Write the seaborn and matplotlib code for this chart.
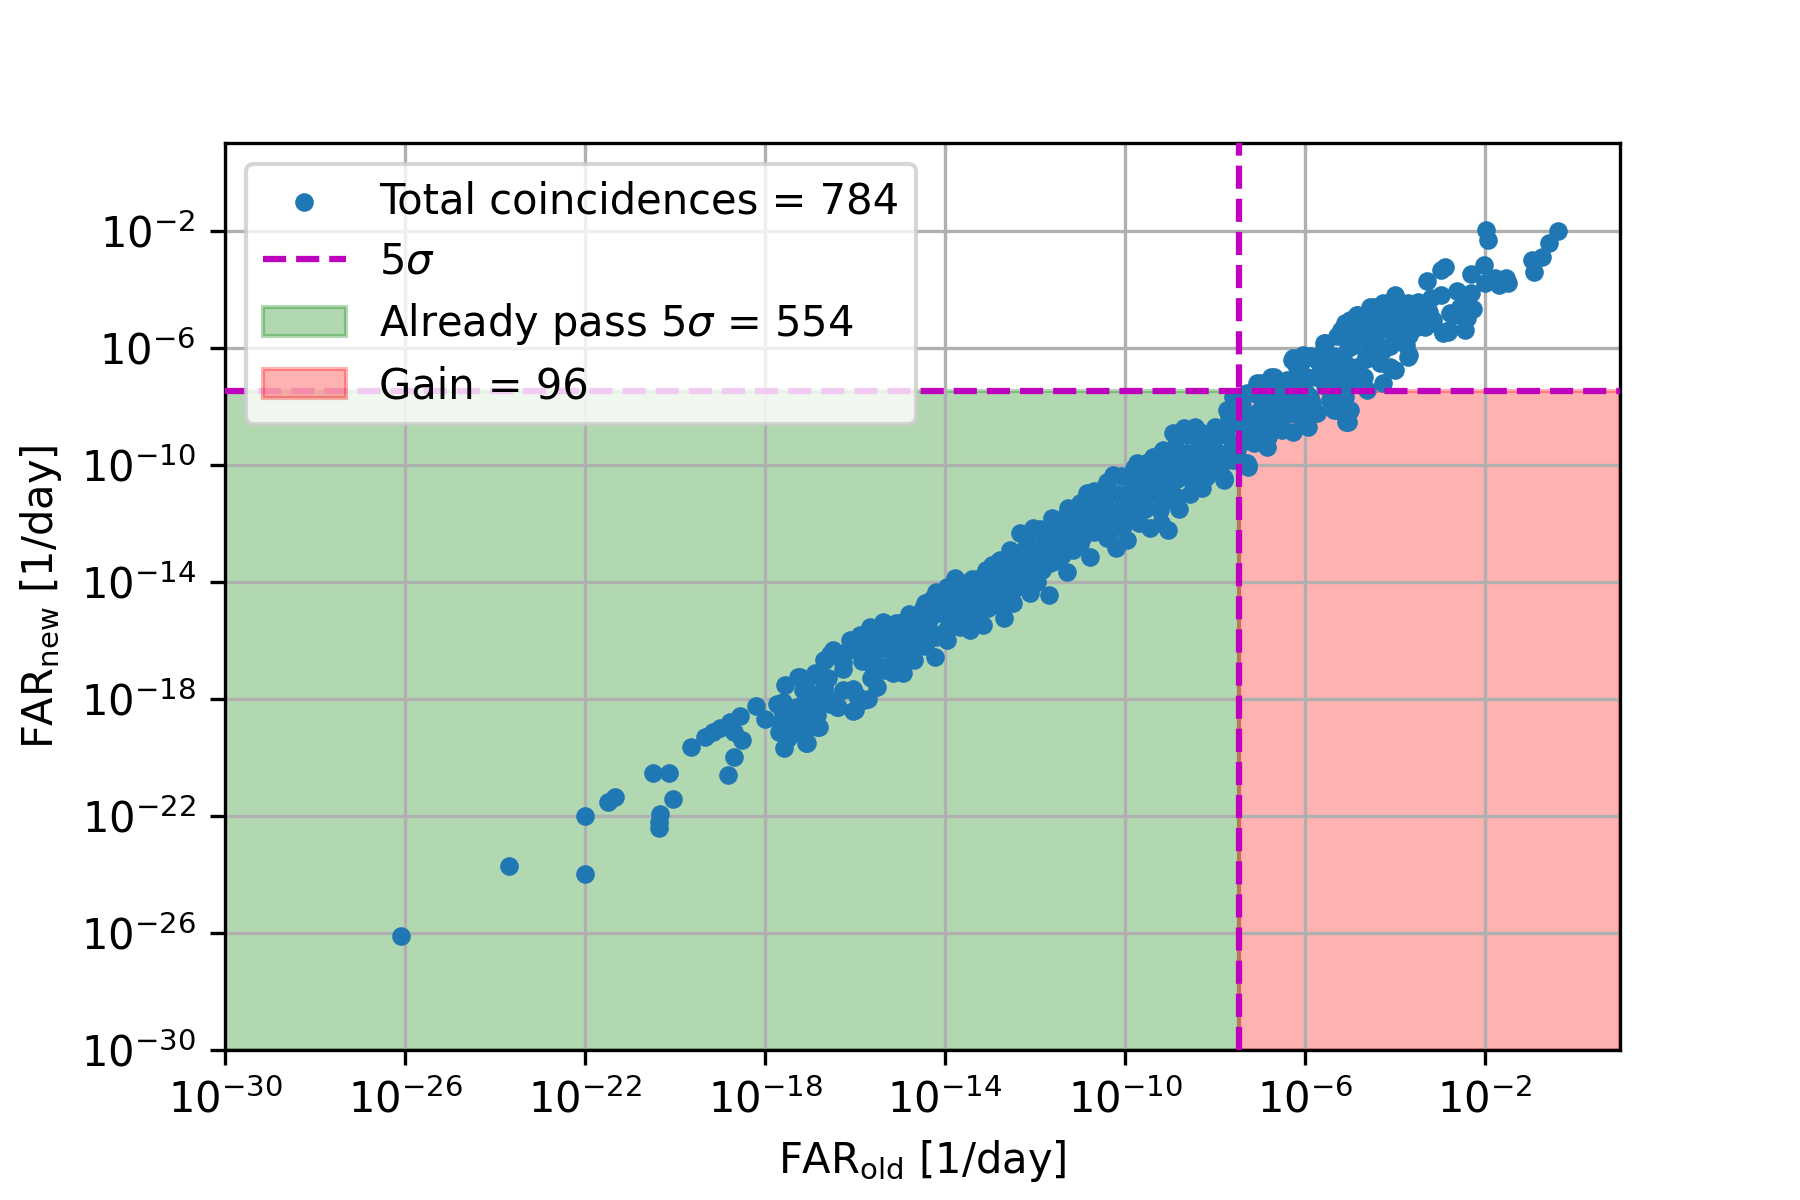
import numpy as np
import pandas as pd
import matplotlib
matplotlib.use("Agg")
import matplotlib.pyplot as plt
import seaborn as sns
from matplotlib.ticker import NullLocator

# log10 of the false alarm rates [1/day]
# sparse tail at low FAR
tail_old = [-26.10, -23.70, -21.99, -21.99, -21.50, -21.33, -20.50, -20.13, -20.04, -20.33, -20.35, -20.35,
            -19.64, -19.33, -19.15, -19.00, -18.78, -18.56, -18.70, -18.52, -18.68, -18.82,
            -18.20, -18.00, -17.74, -17.56, -17.59, -17.67, -17.70, -17.58, -17.37, -17.09, -17.00, -16.85, -16.79,
            -17.60, -17.45, -17.30, -17.15, -16.95, -17.50]
tail_new = [-26.11, -23.72, -24.00, -22.02, -21.54, -21.37, -20.55, -20.55, -21.44, -21.95, -22.20, -22.43,
            -19.66, -19.32, -19.12, -19.00, -18.78, -18.59, -19.12, -19.39, -19.98, -20.62,
            -18.25, -18.70, -18.16, -17.53, -18.10, -18.84, -19.12, -19.69, -19.18, -19.50, -18.95, -18.55, -18.95,
            -18.50, -18.80, -19.00, -18.70, -18.30, -19.35]

# start of the dense band
low_old = [-17.26, -17.15, -17.07, -16.89, -16.70, -16.67, -16.56, -16.26, -16.04, -16.04,
           -15.89, -15.67, -15.59, -15.74, -16.18, -16.26, -16.56, -16.41, -17.30, -17.22]
low_new = [-17.25, -17.71, -18.05, -17.20, -17.66, -16.69, -16.46, -16.97, -17.66, -18.40,
           -18.05, -15.65, -16.90, -16.45, -16.35, -17.71, -18.05, -18.28, -18.28, -18.62]

# band edges between 1e-17 and 1e-7
edge_old = [-17.22, -17.07, -17.15, -16.93, -16.85, -17.07, -17.22, -16.89, -16.70, -16.70,
            -16.56, -16.37, -16.48, -16.26, -16.11, -16.00, -16.04, -15.81, -15.89, -15.67,
            -15.59, -15.52, -15.37, -15.37, -15.15, -15.00, -15.22, -14.93, -14.93, -14.70,
            -14.63, -14.78, -14.44, -14.41, -14.22, -14.19, -14.11, -13.96, -13.96, -13.78,
            -13.74, -13.67, -13.44, -13.44, -13.22, -13.15, -13.15, -12.96, -12.93, -12.70,
            -12.78, -12.56, -12.63, -12.48, -12.48, -12.33, -12.26, -12.11, -12.04, -12.04,
            -11.89, -11.70, -11.63, -11.67, -11.44, -11.30, -11.26, -11.15, -10.85, -10.93,
            -10.78, -10.56, -10.44, -10.26, -10.19, -10.33, -10.11, -9.89, -9.96, -9.74,
            -9.67, -9.44, -9.52, -9.37, -9.22, -9.04, -9.07, -8.85, -8.70, -8.48,
            -8.33, -8.19, -7.81, -7.96, -7.59, -7.26]
edge_new = [-17.25, -17.70, -18.16, -18.61, -18.95, -19.52, -18.84, -17.13, -16.68, -17.64,
            -18.16, -18.27, -16.33, -16.79, -15.99, -18.38, -17.70, -18.04, -15.82, -15.54,
            -16.45, -17.59, -15.37, -16.90, -17.13, -15.42, -16.33, -17.13, -16.33, -16.68,
            -15.19, -15.88, -14.72, -15.65, -16.56, -14.34, -15.08, -14.17, -16.00, -13.88,
            -14.74, -15.54, -14.28, -15.65, -14.85, -15.48, -14.17, -13.43, -14.28, -15.25,
            -13.26, -12.91, -13.83, -14.74, -14.28, -12.34, -13.14, -14.40, -12.17, -13.83,
            -12.80, -14.45, -11.83, -13.37, -12.46, -13.66, -11.49, -12.91, -10.98, -12.12,
            -13.14, -11.78, -10.75, -10.35, -12.86, -12.34, -11.55, -10.52, -12.57, -9.95,
            -11.21, -12.17, -10.64, -9.72, -11.55, -12.23, -10.41, -11.09, -9.95, -10.64,
            -9.72, -10.41, -10.46, -9.84, -9.84, -10.07]

# inside of the band
mid_old = [-16.80, -16.60, -15.60, -15.45, -15.25, -15.10, -14.85, -14.60, -14.50, -14.30,
           -14.20, -14.00, -13.90, -13.85, -13.60, -13.55, -13.35, -13.30, -13.10, -13.05,
           -12.85, -12.80, -12.70, -12.60, -12.45, -12.40, -12.20, -12.15, -12.00, -11.95,
           -11.80, -11.75, -11.55, -11.50, -11.40, -11.20, -11.05, -11.00, -10.90, -10.70,
           -10.65, -10.50, -10.40, -10.35, -10.20, -10.05, -10.00, -9.90, -9.80, -9.70,
           -9.60, -9.55, -9.40, -9.30, -9.20, -9.10, -9.00, -8.90, -8.80, -8.60,
           -8.55, -8.40, -8.30, -8.10, -8.00, -7.90, -7.70, -7.50, -7.40]
mid_new = [-17.90, -17.30, -16.10, -15.90, -15.80, -16.60, -15.50, -16.00, -15.40, -15.00,
           -15.90, -14.70, -15.30, -14.40, -14.20, -15.00, -14.70, -13.90, -14.50, -13.70,
           -14.00, -14.80, -13.60, -14.40, -13.20, -13.90, -12.80, -13.50, -13.10, -14.00,
           -12.40, -13.40, -12.90, -12.10, -13.10, -12.40, -11.80, -12.70, -11.40, -12.30,
           -11.20, -11.90, -12.50, -11.00, -11.80, -12.10, -11.10, -11.70, -10.80, -12.00,
           -10.30, -11.50, -11.00, -10.40, -12.00, -11.20, -10.90, -10.10, -11.50, -10.30,
           -11.00, -10.10, -10.80, -10.00, -9.50, -10.20, -9.60, -9.30, -9.90]

# more points in the crowded part of the band
fill_old = [-15.90, -15.85, -15.95, -15.70, -15.75, -15.65, -15.72, -15.40, -15.45, -15.35,
            -15.10, -15.15, -15.05, -14.80, -14.85, -14.75, -14.50, -14.55, -14.45, -14.30,
            -14.35, -14.25, -14.00, -14.05, -13.95, -13.70, -13.75, -13.65, -13.40, -13.45,
            -13.35, -13.10, -13.15, -13.05, -12.80, -12.85, -12.75, -12.50, -12.55, -12.45,
            -12.20, -12.25, -12.15, -11.90, -11.95, -11.85, -11.60, -11.65, -11.55, -11.30,
            -11.35, -11.25, -11.00, -11.05, -10.95, -10.70, -10.75, -10.65, -10.40, -10.45,
            -10.35, -10.10, -10.15, -10.05, -9.80, -9.85, -9.75, -9.50, -9.55, -9.45,
            -9.20, -9.25, -9.15, -8.90, -8.95, -8.85, -8.60, -8.65, -8.55, -8.30,
            -8.35, -8.25, -8.00, -8.05, -7.95, -7.70, -7.75, -7.65, -7.40, -7.45,
            -7.35, -7.10, -7.15, -7.05, -6.80, -6.85, -6.75, -6.50, -6.55, -6.45,
            -6.20, -6.25, -6.15, -5.90, -5.95, -5.85, -5.60, -5.65, -5.55, -5.30,
            -5.35, -5.25, -5.00, -5.05, -4.95, -4.70, -4.75, -4.65, -4.40, -4.45,
            -4.35, -4.10, -4.15, -4.05, -3.80, -3.85, -3.75, -3.50, -3.55, -3.20, -3.25]
fill_new = [-16.20, -16.70, -17.90, -15.90, -16.60, -17.30, -18.00, -15.70, -16.30, -17.00,
            -15.40, -16.00, -16.90, -15.10, -15.90, -16.40, -14.90, -15.60, -16.20, -14.60,
            -15.30, -15.80, -14.30, -15.00, -15.60, -14.00, -14.90, -15.40, -13.90, -14.50,
            -15.20, -13.60, -14.20, -14.90, -13.30, -13.90, -14.50, -13.00, -13.60, -14.20,
            -12.50, -13.30, -14.00, -12.20, -13.00, -13.60, -12.00, -12.60, -13.30, -11.70,
            -12.20, -12.80, -11.30, -12.00, -12.50, -10.90, -11.60, -12.20, -10.60, -11.40,
            -12.00, -10.40, -11.00, -11.60, -10.10, -10.60, -11.40, -9.90, -10.40, -11.00,
            -9.60, -10.20, -10.70, -9.40, -9.90, -10.50, -9.00, -9.60, -10.20, -8.90,
            -9.40, -10.00, -8.70, -9.20, -9.80, -8.40, -9.00, -9.50, -8.00, -8.60,
            -9.20, -7.60, -8.30, -8.90, -7.40, -7.90, -8.60, -7.20, -7.70, -8.30,
            -6.60, -7.40, -8.00, -6.30, -7.00, -7.90, -6.10, -6.70, -7.30, -5.60,
            -6.30, -7.60, -5.40, -6.00, -6.80, -5.10, -5.60, -6.40, -4.80, -5.30,
            -6.00, -4.60, -5.10, -5.50, -4.60, -5.30, -5.90, -4.60, -5.00, -4.30, -4.90]

# around the 5 sigma crossing
cross_old = [-8.70, -8.44, -8.93, -9.15,
             -7.96, -7.74, -7.59, -7.30, -7.07, -6.70, -6.41,
             -7.81, -7.26, -6.85, -6.26, -5.93, -5.74, -5.30, -5.04, -5.00,
             -6.26, -6.04, -5.74, -5.56, -5.15, -5.00, -4.85, -4.56, -4.26, -3.96,
             -3.70, -4.26, -4.63, -2.93, -2.41,
             -7.22, -6.63, -7.52, -8.11, -8.48, -7.59, -5.96, -6.33, -5.37, -5.30,
             -4.85, -5.00, -4.56, -4.26, -4.11, -3.96, -4.41, -4.70, -3.52, -3.15,
             -2.78, -3.37, -3.81, -5.30, -5.59, -6.63, -7.00, -6.26, -5.44, -4.70]
cross_new = [-8.76, -8.70, -8.93, -9.50,
             -8.93, -8.13, -8.36, -7.56, -7.22, -6.99, -7.10,
             -10.52, -10.01, -9.38, -8.87, -8.70, -8.24, -8.13, -8.53, -8.13,
             -6.36, -6.25, -6.42, -5.85, -5.39, -5.05, -4.88, -4.60, -4.48, -4.37,
             -6.25, -7.22, -7.45, -5.45, -5.00,
             -9.15, -8.36, -9.50, -9.72, -10.07, -7.67, -7.67, -7.79, -7.45, -6.99,
             -6.65, -7.22, -6.19, -6.08, -6.65, -5.74, -5.51, -5.74, -5.28, -5.05,
             -4.82, -4.82, -5.05, -6.42, -6.87, -7.56, -8.13, -8.24, -7.79, -6.99]

# upper right, high FAR
high_old = [-1.97, -1.93, -0.38, -0.57, -0.73, -0.96, -0.92, -2.02, -2.32,
            -1.78, -1.54, -1.50, -1.70, -2.01, -2.90, -2.98, -3.29,
            -2.32, -2.63, -2.98, -2.55, -2.44, -2.79, -2.94, -3.99,
            -3.72, -3.49, -3.25, -3.17, -3.33, -3.68, -3.72,
            -4.03, -3.87, -4.11, -4.00, -4.34,
            -4.46, -4.34, -4.57, -4.81, -4.65,
            -4.85, -5.12, -5.20, -4.96, -5.12, -4.65, -4.73, -5.08, -5.12, -5.27, -5.04, -5.08,
            -5.58, -5.35, -5.43, -5.35, -5.74, -5.78, -5.89, -5.82,
            -6.28, -6.05, -6.21, -6.36, -5.97, -6.28, -6.05,
            -6.75, -6.98, -7.14, -6.83, -6.67, -6.98, -7.22,
            -6.52, -6.83, -7.14, -7.29,
            -2.57, -2.27, -2.45, -2.83]
high_new = [-1.97, -2.32, -2.03, -2.43, -2.89, -3.00, -3.43, -3.17, -3.48,
            -3.63, -3.63, -3.80, -3.86, -3.80, -3.26, -3.34, -3.71,
            -4.14, -4.08, -4.20, -4.60, -5.00, -5.39, -5.51, -4.20,
            -4.48, -4.43, -4.77, -5.17, -5.28, -5.57, -6.31,
            -4.94, -5.39, -5.96, -6.76, -6.53,
            -4.60, -4.77, -5.17, -4.94, -5.51,
            -4.88, -5.17, -5.39, -5.96, -6.53, -6.31, -6.99, -7.22, -7.67, -7.90, -8.24, -8.53,
            -5.85, -6.42, -6.99, -8.13, -6.42, -6.99, -7.67, -8.13,
            -6.42, -6.42, -6.99, -7.22, -7.56, -8.02, -8.47,
            -6.99, -7.22, -7.56, -7.67, -8.24, -8.47, -8.59,
            -8.81, -9.04, -9.27, -9.95,
            -4.87, -4.67, -5.38, -5.46]

FAR_5SIGMA = 3.4e-8
FAR_MIN, FAR_MAX = 1e-30, 1e1
n_total, n_pass, n_gain = 784, 554, 96

log_old = np.array(tail_old + low_old + edge_old + mid_old + fill_old + cross_old + high_old)
log_new = np.array(tail_new + low_new + edge_new + mid_new + fill_new + cross_new + high_new)
df = pd.DataFrame({"far_old": 10.0 ** log_old, "far_new": 10.0 ** log_new})

fig, ax = plt.subplots(figsize=(6, 4), dpi=300)
fig.subplots_adjust(left=0.125, right=0.9, bottom=0.125, top=0.881)
ax.set_xscale("log")
ax.set_yscale("log")

green = ax.fill_between([FAR_MIN, FAR_5SIGMA], FAR_MIN, FAR_5SIGMA, color="green", alpha=0.3)
red = ax.fill_between([FAR_5SIGMA, FAR_MAX], FAR_MIN, FAR_5SIGMA, color="red", alpha=0.3)

sns.scatterplot(data=df, x="far_old", y="far_new", s=20, linewidth=0, color="#1f77b4",
                ax=ax, zorder=2)
pts = ax.collections[-1]

hline = ax.axhline(FAR_5SIGMA, color="m", ls="--", lw=1.5, zorder=3)
ax.axvline(FAR_5SIGMA, color="m", ls="--", lw=1.5, zorder=3)

ax.set_xlim(FAR_MIN, FAR_MAX)
ax.set_ylim(FAR_MIN, FAR_MAX)
ticks = 10.0 ** np.arange(-30, 1, 4)
ax.set_xticks(ticks)
ax.set_yticks(ticks)
ax.xaxis.set_minor_locator(NullLocator())
ax.yaxis.set_minor_locator(NullLocator())
ax.grid(True)

ax.set_xlabel(r"FAR$_{\rm old}$ [1/day]")
ax.set_ylabel(r"FAR$_{\rm new}$ [1/day]")

ax.legend(handles=[pts, hline, green, red],
          labels=[f"Total coincidences = {n_total}", r"5$\sigma$",
                  rf"Already pass 5$\sigma$ = {n_pass}", f"Gain = {n_gain}"],
          loc="upper left", labelspacing=0.44)

fig.savefig("out.png", dpi=300)
